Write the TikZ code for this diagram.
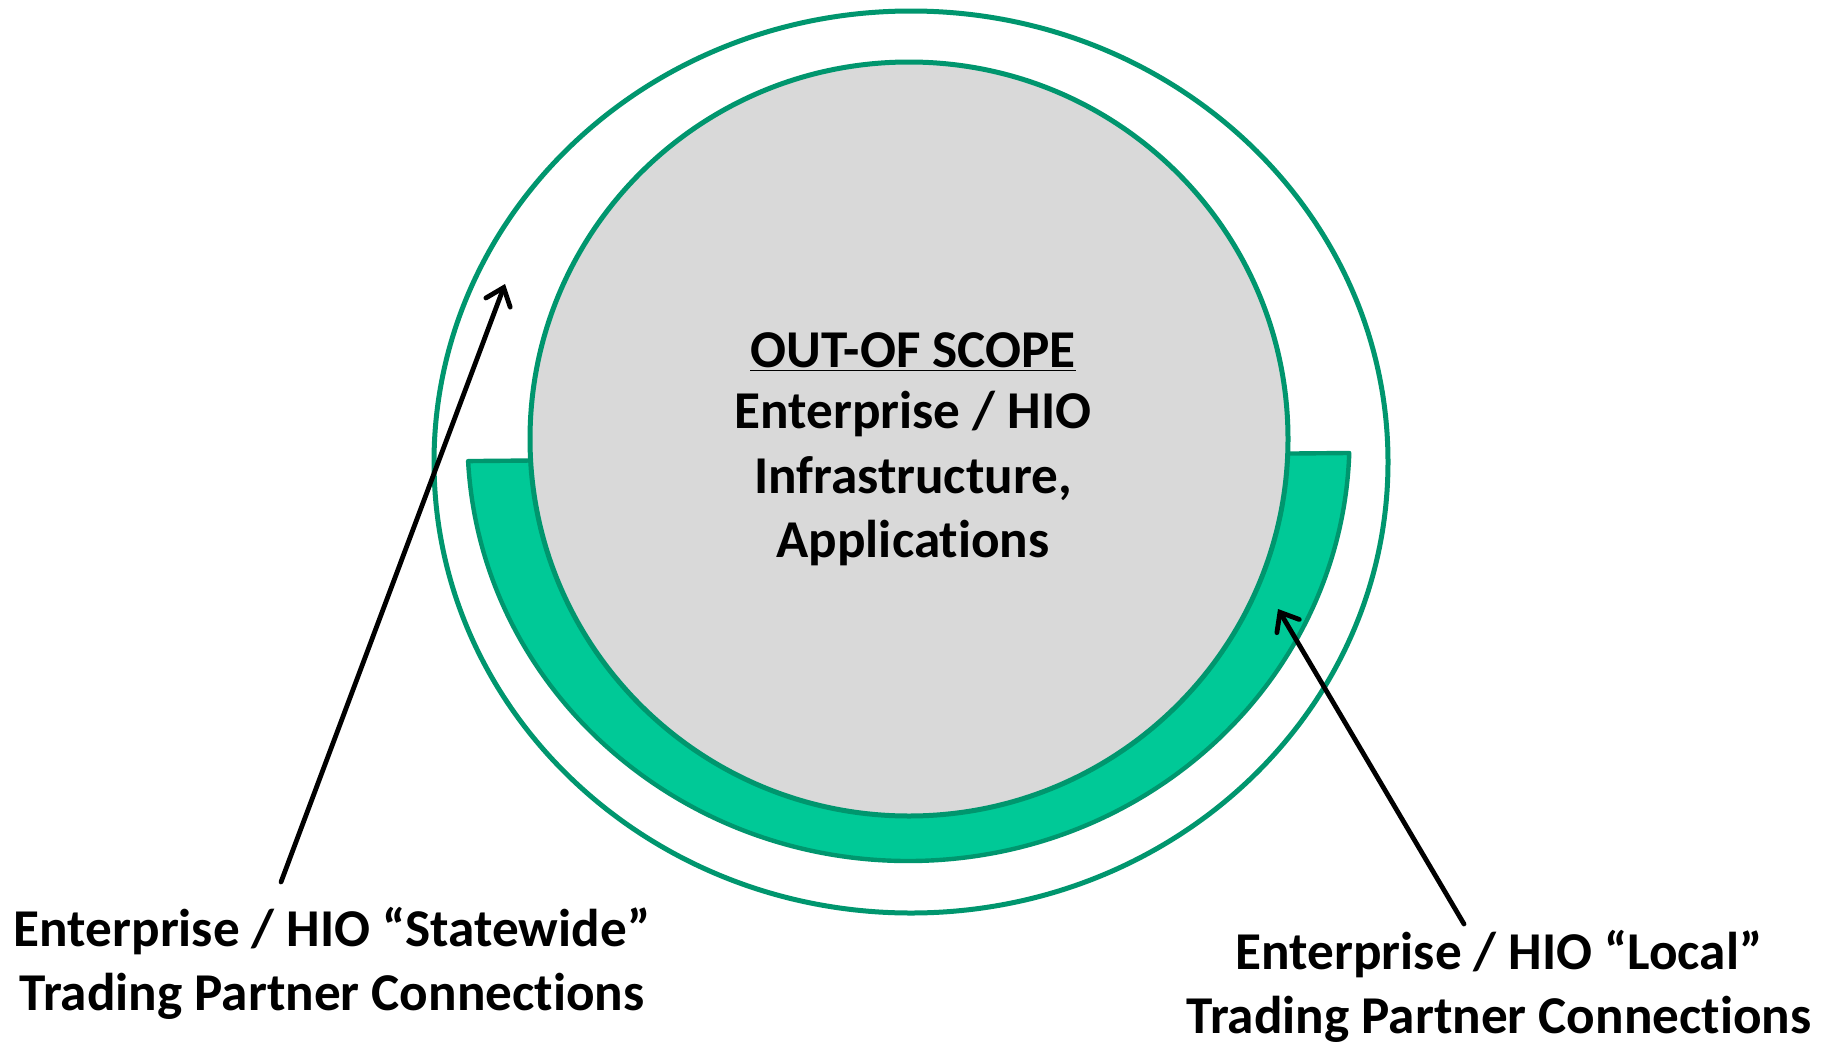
\documentclass[tikz,border=0pt]{standalone}
\usepackage{fontspec}
\setmainfont{Carlito}[Ligatures=NoCommon]
\usetikzlibrary{arrows.meta}
\definecolor{ringline}{RGB}{0,150,110}
\definecolor{bandfill}{RGB}{0,201,151}
\definecolor{coregray}{RGB}{217,217,217}
\tikzset{
  ring/.style={draw=ringline, line width=2.5pt},
  lbl/.style={font=\fontsize{26.6pt}{32pt}\selectfont\bfseries, inner sep=0pt, anchor=base},
  pointer/.style={draw=black, line width=2.4pt, line cap=round,
    -{Straight Barb[length=8pt, width=13pt, line width=2.4pt, line cap=round]}},
}
\begin{document}
\begin{tikzpicture}[x=0.5pt, y=-0.5pt]
\useasboundingbox (0,0) rectangle (1830,1044);
% outer ring
\coordinate (oc) at (911,462);
\draw[ring, fill=white] (oc) ellipse [x radius=477, y radius=451];
% band
\coordinate (bc) at (908.5,439);
\draw[ring, line width=2.2pt, fill=bandfill, line join=round]
  (bc) ++(177:441 and 422) coordinate (bl)
  arc[start angle=177, end angle=1.9, x radius=441, y radius=422] coordinate (br)
  -- cycle;
% inner core
\coordinate (ic) at (909,439);
\draw[ring, fill=coregray] (ic) ellipse [x radius=379, y radius=377];
% texts
\node[lbl] (t1) at (913,367) {\underline{OUT-OF SCOPE}};
\node[lbl] (t2) at (913,428) {Enterprise / HIO};
\node[lbl] (t3) at (913,493) {Infrastructure,};
\node[lbl] (t4) at (913,557) {Applications};
\node[lbl] (l1) at (332,946) {Enterprise / HIO “Statewide”};
\node[lbl] (l2) at (332,1010) {Trading Partner Connections};
\node[lbl] (r1) at (1499,969) {Enterprise / HIO “Local”};
\node[lbl] (r2) at (1499,1033) {Trading Partner Connections};
% pointers
\coordinate (lt) at (281,882);
\coordinate (lh) at (505,284);
\coordinate (rt) at (1464,924);
\coordinate (rh) at (1278,609);
\draw[pointer] (lt) -- (lh);
\draw[pointer] (rt) -- (rh);
\end{tikzpicture}
\end{document}
